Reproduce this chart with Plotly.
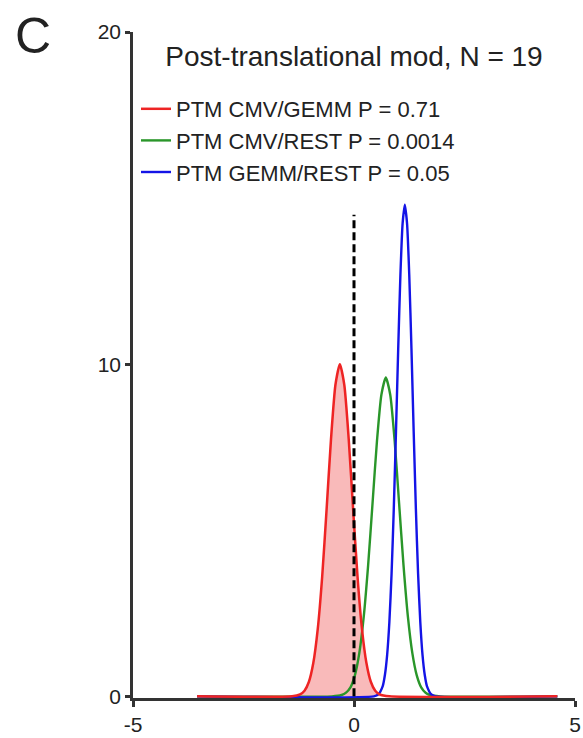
import plotly.graph_objects as go

# Density curves of the PTM comparisons (x = effect, y = density)
red_x = [-3.55, -1.4, -1.22, -1.12, -1.02, -0.92, -0.82, -0.72, -0.62, -0.52, -0.42,
         -0.32, -0.22, -0.12, -0.02, 0.08, 0.18, 0.28, 0.38, 0.48, 0.58, 0.8, 4.6]
red_y = [0, 0, 0.06, 0.17, 0.44, 1.01, 2.03, 3.60, 5.63, 7.75, 9.38,
         10.0, 9.38, 7.75, 5.63, 3.60, 2.03, 1.01, 0.44, 0.17, 0.06, 0, 0]

green_x = [-3.55, -0.5, -0.28, -0.18, -0.08, 0.02, 0.12, 0.22, 0.32, 0.42, 0.52, 0.62,
           0.72, 0.82, 0.92, 1.02, 1.12, 1.22, 1.32, 1.42, 1.52, 1.62, 1.72, 1.95, 4.6]
green_y = [0, 0, 0.04, 0.11, 0.27, 0.63, 1.30, 2.39, 3.95, 5.82, 7.69, 9.08,
           9.6, 9.08, 7.69, 5.82, 3.95, 2.39, 1.30, 0.63, 0.27, 0.11, 0.04, 0, 0]

blue_x = [-3.55, 0.45, 0.55, 0.65, 0.7, 0.75, 0.8, 0.85, 0.9, 0.95, 1.0, 1.05, 1.1,
          1.15, 1.2, 1.25, 1.3, 1.35, 1.4, 1.45, 1.5, 1.55, 1.6, 1.65, 1.75, 1.85, 4.6]
blue_y = [0, 0, 0.06, 0.31, 0.65, 1.25, 2.23, 3.69, 5.64, 7.98, 10.46, 12.69, 14.24,
          14.8, 14.24, 12.69, 10.46, 7.98, 5.64, 3.69, 2.23, 1.25, 0.65, 0.31, 0.06, 0, 0]

labels = ["PTM CMV/GEMM P = 0.71", "PTM CMV/REST P = 0.0014", "PTM GEMM/REST P = 0.05"]

# reference line at zero effect
zero_x = [0, 0]
zero_y = [0, 14.5]

x_ticks = [-5, 0, 5]
y_ticks = [0, 10, 20]

RED = "#ee2424"
GREEN = "#2a962a"
BLUE = "#1414e6"
AXIS = "#333333"
TEXT = "#222222"
FONT = "Liberation Sans, Arial, sans-serif"

# plot-area geometry in pixels
W, H = 583, 738
L, R, T, B = 133, 8, 32, 40
PW, PH = W - L - R, H - T - B

fig = go.Figure()

# shaded area under the CMV/GEMM curve
fig.add_trace(go.Scatter(x=red_x, y=red_y, mode="lines", fill="tozeroy",
                         fillcolor="rgba(240,90,90,0.42)",
                         line=dict(color=RED, width=0, shape="spline", smoothing=0.6),
                         showlegend=False, hoverinfo="skip"))

fig.add_trace(go.Scatter(x=green_x, y=green_y, mode="lines", name=labels[1], legendrank=2,
                         line=dict(color=GREEN, width=2.4, shape="spline", smoothing=0.6)))
fig.add_trace(go.Scatter(x=blue_x, y=blue_y, mode="lines", name=labels[2], legendrank=3,
                         line=dict(color=BLUE, width=2.4, shape="spline", smoothing=0.6)))
fig.add_trace(go.Scatter(x=red_x, y=red_y, mode="lines", name=labels[0], legendrank=1,
                         line=dict(color=RED, width=2.5, shape="spline", smoothing=0.6)))

fig.add_trace(go.Scatter(x=zero_x, y=zero_y, mode="lines", showlegend=False,
                         line=dict(color="black", width=3, dash="8px,4px")))

fig.update_layout(
    width=W, height=H,
    margin=dict(l=L, r=R, t=T, b=B, autoexpand=False),
    paper_bgcolor="white", plot_bgcolor="white",
    font=dict(family=FONT, color=TEXT),
    title=dict(text="Post-translational mod, N = 19", x=0.5, xref="paper",
               y=1 - 56 / H, yref="container", yanchor="middle",
               font=dict(size=28, color=TEXT)),
    legend=dict(x=(136 - L) / PW, xanchor="left", y=(H - B - 88) / PH, yanchor="top",
                font=dict(size=22, color=TEXT), bgcolor="rgba(0,0,0,0)",
                itemwidth=30, traceorder="normal"),
    showlegend=True,
    annotations=[dict(text="C", x=(33 - L) / PW, y=(H - B - 36) / PH,
                      xref="paper", yref="paper", xanchor="center", yanchor="middle",
                      showarrow=False, font=dict(size=50, color=TEXT))],
)

fig.update_xaxes(range=[-5, 5], tickvals=x_ticks, ticktext=[str(v) for v in x_ticks],
                 showline=True, linecolor=AXIS, linewidth=2.5, ticks="outside",
                 ticklen=6, tickwidth=2.5, tickcolor=AXIS, showgrid=False, zeroline=False,
                 automargin=False, layer="below traces", tickfont=dict(size=21, color=TEXT))
fig.update_yaxes(range=[-0.05, 20], tickvals=y_ticks, ticktext=[str(v) for v in y_ticks],
                 showline=True, linecolor=AXIS, linewidth=2.5, ticks="outside",
                 ticklen=5, tickwidth=2.5, tickcolor=AXIS, showgrid=False, zeroline=False,
                 automargin=False, layer="below traces", tickfont=dict(size=21, color=TEXT))

fig.write_html("out.html")
